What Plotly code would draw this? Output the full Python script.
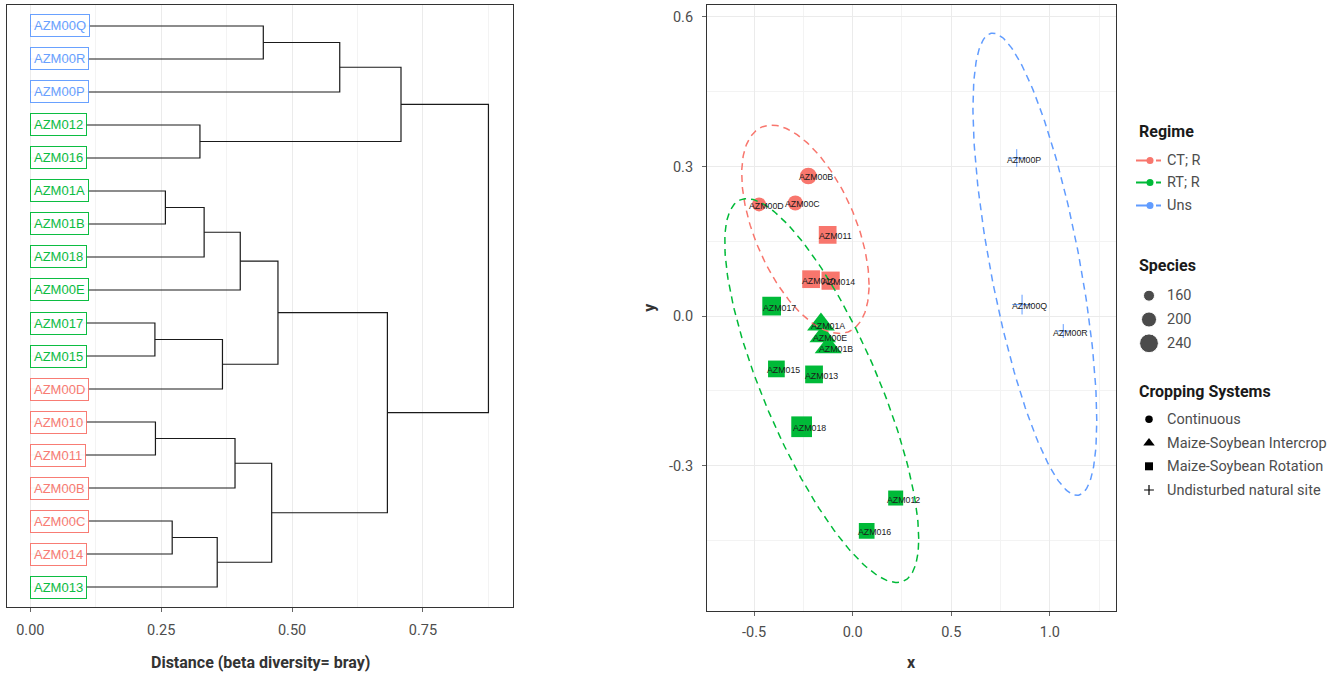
import numpy as np
import plotly.graph_objects as go

# ---------------- dendrogram (bray distance, hierarchical clustering) ----------------
leaf_labels = ["AZM00Q", "AZM00R", "AZM00P", "AZM012", "AZM016", "AZM01A", "AZM01B",
               "AZM018", "AZM00E", "AZM017", "AZM015", "AZM00D", "AZM010", "AZM011",
               "AZM00B", "AZM00C", "AZM014", "AZM013"]
leaf_regime = ["Uns", "Uns", "Uns", "RT; R", "RT; R", "RT; R", "RT; R", "RT; R", "RT; R",
               "RT; R", "RT; R", "CT; R", "CT; R", "CT; R", "CT; R", "CT; R", "CT; R", "RT; R"]
# hclust-style merge table: negative = leaf index (1-based, top to bottom), positive = earlier merge
merge_a = [-10, -13, -6, -16, -4, 3, 4, 1, 2, 6, -1, 9, 10, 11, 13, 14, 16]
merge_b = [-11, -14, -7, -17, -5, -8, -18, -12, -15, -9, -2, 7, 8, -3, 12, 5, 15]
merge_h = [0.238, 0.239, 0.258, 0.271, 0.324, 0.332, 0.357, 0.367, 0.391, 0.401,
           0.445, 0.461, 0.473, 0.591, 0.682, 0.708, 0.875]
dist_ticks = [0.0, 0.25, 0.5, 0.75]
dist_ticklabels = ["0.00", "0.25", "0.50", "0.75"]

# ---------------- ordination ----------------
samples = ["AZM00B", "AZM00D", "AZM00C", "AZM011", "AZM010", "AZM014", "AZM017", "AZM01A",
           "AZM00E", "AZM01B", "AZM015", "AZM013", "AZM018", "AZM012", "AZM016",
           "AZM00P", "AZM00Q", "AZM00R"]
x_coord = [-0.225, -0.475, -0.291, -0.127, -0.211, -0.112, -0.411, -0.161,
           -0.152, -0.124, -0.387, -0.196, -0.259, 0.218, 0.071,
           0.832, 0.859, 1.068]
y_coord = [0.281, 0.224, 0.227, 0.163, 0.074, 0.071, 0.020, -0.017,
           -0.041, -0.063, -0.106, -0.117, -0.222, -0.365, -0.431,
           0.317, 0.023, -0.030]
regime = ["CT; R"] * 6 + ["RT; R"] * 9 + ["Uns"] * 3
cropping = ["Continuous", "Continuous", "Continuous",
            "Maize-Soybean Rotation", "Maize-Soybean Rotation", "Maize-Soybean Rotation",
            "Maize-Soybean Rotation", "Maize-Soybean Intercrop", "Maize-Soybean Intercrop",
            "Maize-Soybean Intercrop", "Maize-Soybean Rotation", "Maize-Soybean Rotation",
            "Maize-Soybean Rotation", "Maize-Soybean Rotation", "Maize-Soybean Rotation",
            "Undisturbed natural site", "Undisturbed natural site", "Undisturbed natural site"]
species = [217, 189, 199, 228, 228, 233, 239, 222, 214, 218, 217, 228, 262, 199, 206,
           176, 190, 150]

# 95% ellipses per regime: centre, half-width, half-height, x offset of the topmost point
ell_regime = ["CT; R", "RT; R", "Uns"]
ell_cx = [-0.240, -0.157, 0.924]
ell_cy = [0.174, -0.1495, 0.104]
ell_halfw = [0.323, 0.492, 0.314]
ell_halfh = [0.209, 0.385, 0.4636]
ell_topdx = [-0.172, -0.380, -0.213]

x_ticks = [-0.5, 0.0, 0.5, 1.0]
x_ticklabels = ["-0.5", "0.0", "0.5", "1.0"]
y_ticks = [-0.3, 0.0, 0.3, 0.6]
y_ticklabels = ["-0.3", "0.0", "0.3", "0.6"]

regime_levels = ["CT; R", "RT; R", "Uns"]
species_breaks = [160, 200, 240]
cropping_levels = ["Continuous", "Maize-Soybean Intercrop", "Maize-Soybean Rotation",
                   "Undisturbed natural site"]

# ---------------- styling ----------------
W, H = 1339, 677
COL = {"CT; R": "#F8766D", "RT; R": "#00BA38", "Uns": "#619CFF"}
SYM = {"Continuous": "circle", "Maize-Soybean Intercrop": "triangle-up",
       "Maize-Soybean Rotation": "square", "Undisturbed natural site": "cross-thin"}
SYM_SCALE = {"Continuous": 1.0, "Maize-Soybean Intercrop": 1.4,
             "Maize-Soybean Rotation": 1.0, "Undisturbed natural site": 1.0}
UI = "Roboto, Lato, sans-serif"
ARIAL = "Liberation Sans, Arial, sans-serif"
TICK_COL = "#4d4d4d"
TITLE_COL = "#333333"
GRID = "#ebebeb"
GRID_MINOR = "#f3f3f3"
FRAME = "#333333"

# panel boxes in pixels (left, right, top, bottom)
P1 = (7, 513, 5, 607)
P2 = (707, 1115.7, 5, 610.7)


def size_px(s):
    # area-style size scale: diameter grows with sqrt(species)
    return 11 + (np.sqrt(s) - np.sqrt(160)) * 2.75


def px_x(p):
    return p / W


def px_y(p):
    return 1 - p / H


fig = go.Figure()

# ---- dendrogram segments ----
n_leaf = len(leaf_labels)


def node(k):
    if k < 0:
        return 0.0, float(n_leaf + 1 + k)
    return merge_h[k - 1], node_y[k - 1]


node_y = []
seg_x, seg_y = [], []
for a, b, h in zip(merge_a, merge_b, merge_h):
    ha, ya = node(a)
    hb, yb = node(b)
    seg_x += [ha, h, h, hb, None]
    seg_y += [ya, ya, yb, yb, None]
    node_y.append((ya + yb) / 2)

fig.add_trace(go.Scatter(x=seg_x, y=seg_y, mode="lines", xaxis="x", yaxis="y",
                         line=dict(color="#1a1a1a", width=1.2), hoverinfo="skip",
                         showlegend=False))

annotations = []
for i, (lab, reg) in enumerate(zip(leaf_labels, leaf_regime)):
    c = COL[reg]
    annotations.append(dict(
        x=0, y=n_leaf - i, xref="x", yref="y", text=lab, showarrow=False,
        xanchor="left", yanchor="middle", align="left",
        font=dict(family=ARIAL, size=13, color=c),
        bgcolor="white", bordercolor=c, borderwidth=1, borderpad=3, opacity=0.95))

# ---- ordination points ----
for crop in cropping_levels:
    idx = [i for i, c in enumerate(cropping) if c == crop]
    cols = [COL[regime[i]] for i in idx]
    sizes = [size_px(species[i]) * SYM_SCALE[crop] for i in idx]
    plus = crop == "Undisturbed natural site"
    fig.add_trace(go.Scatter(
        x=[x_coord[i] for i in idx], y=[y_coord[i] for i in idx],
        mode="markers", xaxis="x2", yaxis="y2", showlegend=False,
        marker=dict(symbol=SYM[crop], size=sizes, color=cols, opacity=1,
                    line=dict(width=1 if plus else 0, color=cols)),
        text=[samples[i] for i in idx], hoverinfo="text"))

# ---- ellipses ----
t = np.linspace(0, 2 * np.pi, 241)
for reg, cx, cy, hw, hh, tdx in zip(ell_regime, ell_cx, ell_cy, ell_halfw, ell_halfh, ell_topdx):
    sxx, syy, sxy = hw ** 2, hh ** 2, tdx * hh
    l11 = np.sqrt(sxx)
    l21 = sxy / l11
    l22 = np.sqrt(syy - l21 ** 2)
    ex = cx + l11 * np.cos(t)
    ey = cy + l21 * np.cos(t) + l22 * np.sin(t)
    fig.add_trace(go.Scatter(x=ex, y=ey, mode="lines", xaxis="x2", yaxis="y2",
                             line=dict(color=COL[reg], width=1.5, dash="7px,5px"),
                             hoverinfo="skip", showlegend=False))

# sample labels on the ordination
for s, xv, yv in zip(samples, x_coord, y_coord):
    annotations.append(dict(x=xv, y=yv, xref="x2", yref="y2", text=s, showarrow=False,
                            xanchor="center", yanchor="middle", xshift=7.5, yshift=-1.5,
                            font=dict(family=ARIAL, size=8.8, color="#1a1a1a")))

# ---- legends (keys drawn on a hidden pixel-space axis) ----
LX_KEY, LX_TXT, LX_TITLE = 1149, 1165, 1137
reg_y = [160.5, 182.5, 205.5]
spc_y = [295.7, 319.5, 343.3]
crp_y = [419.3, 443.0, 466.3, 490.0]
LEG_FONT = dict(family=UI, size=14.5, color=TICK_COL)

for reg, yy in zip(regime_levels, reg_y):
    fig.add_trace(go.Scatter(x=[1136, 1161], y=[yy, yy], mode="lines", xaxis="x3", yaxis="y3",
                             line=dict(color=COL[reg], width=2, dash="12px,8px"),
                             hoverinfo="skip", showlegend=False))
    fig.add_trace(go.Scatter(x=[1150], y=[yy], mode="markers", xaxis="x3", yaxis="y3",
                             marker=dict(color=COL[reg], size=7),
                             hoverinfo="skip", showlegend=False))
    annotations.append(dict(x=LX_TXT, y=yy, xref="x3", yref="y3", text=reg, showarrow=False,
                            xanchor="left", yanchor="middle", font=LEG_FONT))

fig.add_trace(go.Scatter(x=[LX_KEY] * 3, y=spc_y, mode="markers", xaxis="x3", yaxis="y3",
                         marker=dict(color="black", size=[size_px(v) for v in species_breaks]),
                         hoverinfo="skip", showlegend=False))
for v, yy in zip(species_breaks, spc_y):
    annotations.append(dict(x=LX_TXT, y=yy, xref="x3", yref="y3", text=str(v), showarrow=False,
                            xanchor="left", yanchor="middle", font=LEG_FONT))

key_sizes = {"Continuous": 7.5, "Maize-Soybean Intercrop": 10,
             "Maize-Soybean Rotation": 8, "Undisturbed natural site": 7}
for crop, yy in zip(cropping_levels, crp_y):
    plus = crop == "Undisturbed natural site"
    fig.add_trace(go.Scatter(x=[LX_KEY], y=[yy], mode="markers", xaxis="x3", yaxis="y3",
                             marker=dict(symbol=SYM[crop], size=key_sizes[crop], color="black",
                                         line=dict(width=1.2 if plus else 0, color="black")),
                             hoverinfo="skip", showlegend=False))
    annotations.append(dict(x=LX_TXT, y=yy, xref="x3", yref="y3", text=crop, showarrow=False,
                            xanchor="left", yanchor="middle", font=LEG_FONT))

for title, yy in zip(["Regime", "Species", "Cropping Systems"], [131.7, 265.7, 391.7]):
    annotations.append(dict(x=LX_TITLE, y=yy, xref="x3", yref="y3", text="<b>%s</b>" % title,
                            showarrow=False, xanchor="left", yanchor="middle",
                            font=dict(family=UI, size=16, color="#1a1a1a")))

# axis titles, centred on their panels
TITLE_FONT = dict(family=UI, size=16, color=TITLE_COL)
annotations.append(dict(x=px_x((P1[0] + P1[1]) / 2), y=px_y(662), xref="paper", yref="paper",
                        text="<b>Distance (beta diversity= bray)</b>", showarrow=False,
                        xanchor="center", yanchor="middle", font=TITLE_FONT))
annotations.append(dict(x=px_x((P2[0] + P2[1]) / 2), y=px_y(662), xref="paper", yref="paper",
                        text="<b>x</b>", showarrow=False, xanchor="center", yanchor="middle",
                        font=TITLE_FONT))
annotations.append(dict(x=px_x(650), y=px_y((P2[2] + P2[3]) / 2), xref="paper", yref="paper",
                        text="<b>y</b>", showarrow=False, xanchor="center", yanchor="middle",
                        textangle=-90, font=TITLE_FONT))

axis_common = dict(showline=True, mirror=True, linecolor=FRAME, linewidth=1,
                   ticks="outside", ticklen=4, tickcolor="#666666", zeroline=False,
                   tickfont=dict(family=UI, size=14.5, color=TICK_COL),
                   gridcolor=GRID, gridwidth=1)

fig.update_layout(
    width=W, height=H, margin=dict(l=0, r=0, t=0, b=0),
    paper_bgcolor="white", plot_bgcolor="white", showlegend=False,
    annotations=annotations,
    xaxis=dict(domain=[px_x(P1[0]), px_x(P1[1])], range=[-0.0445, 0.9219], anchor="y",
               tickvals=dist_ticks, ticktext=dist_ticklabels, showgrid=True,
               minor=dict(dtick=0.125, tick0=0.125, showgrid=True, gridcolor=GRID_MINOR, ticks=""),
               ticklabelstandoff=6, **axis_common),
    yaxis=dict(domain=[px_y(P1[3]), px_y(P1[2])], range=[0.394, 18.636], anchor="x",
               showline=True, mirror=True, linecolor=FRAME, linewidth=1,
               showticklabels=False, ticks="", showgrid=False, zeroline=False),
    xaxis2=dict(domain=[px_x(P2[0]), px_x(P2[1])], range=[-0.739, 1.334], anchor="y2",
                tickvals=x_ticks, ticktext=x_ticklabels, showgrid=True,
                minor=dict(dtick=0.25, tick0=0.25, showgrid=True, gridcolor=GRID_MINOR, ticks=""),
                ticklabelstandoff=4, **axis_common),
    yaxis2=dict(domain=[px_y(P2[3]), px_y(P2[2])], range=[-0.591, 0.624], anchor="x2",
                tickvals=y_ticks, ticktext=y_ticklabels, showgrid=True,
                minor=dict(dtick=0.15, tick0=0.15, showgrid=True, gridcolor=GRID_MINOR, ticks=""),
                ticklabelstandoff=6, **axis_common),
    xaxis3=dict(domain=[px_x(1120), 1.0], range=[1120, W], visible=False, fixedrange=True),
    yaxis3=dict(domain=[0.0, 1.0], range=[H, 0], visible=False, fixedrange=True,
                anchor="x3"),
)

fig.write_html("out.html")
